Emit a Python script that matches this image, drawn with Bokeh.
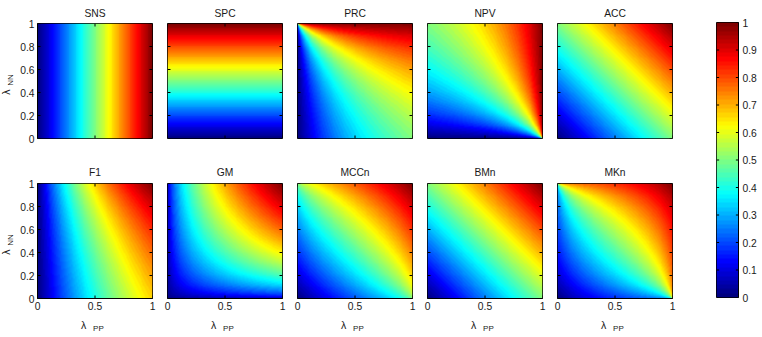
import numpy as np
from bokeh.plotting import figure
from bokeh.layouts import row, column
from bokeh.models import Range1d, FixedTicker, LinearColorMapper
from bokeh.core.properties import value
from bokeh.embed import file_html
from bokeh.resources import INLINE

# ---------------- data ----------------
metric_names = ["SNS", "SPC", "PRC", "NPV", "ACC",
                "F1", "GM", "MCCn", "BMn", "MKn"]
x_ticks = [0, 0.5, 1]
x_tick_labels = ["0", "0.5", "1"]
y_ticks = [0, 0.2, 0.4, 0.6, 0.8, 1]
y_tick_labels = ["0", "0.2", "0.4", "0.6", "0.8", "1"]
cbar_ticks = [0, 0.1, 0.2, 0.3, 0.4, 0.5, 0.6, 0.7, 0.8, 0.9, 1]
cbar_tick_labels = ["0", "0.1", "0.2", "0.3", "0.4", "0.5", "0.6", "0.7", "0.8", "0.9", "1"]
x_label_main, x_label_sub = "λ", "PP"
y_label_main, y_label_sub = "λ", "NN"
n_positive = 1.0   # balanced classes
n_negative = 1.0
grid_n = 240

# lambda_PP (x) and lambda_NN (y) sampled at cell centres
lam = (np.arange(grid_n) + 0.5) / grid_n
LPP, LNN = np.meshgrid(lam, lam)

TP = n_positive * LPP
FN = n_positive * (1 - LPP)
TN = n_negative * LNN
FP = n_negative * (1 - LNN)

SNS = TP / (TP + FN)
SPC = TN / (TN + FP)
PRC = TP / (TP + FP)
NPV = TN / (TN + FN)
ACC = (TP + TN) / (n_positive + n_negative)
F1 = 2 * TP / (2 * TP + FP + FN)
GM = np.sqrt(SNS * SPC)
MCC = (TP * TN - FP * FN) / np.sqrt((TP + FP) * (TP + FN) * (TN + FP) * (TN + FN))
MCCn = (MCC + 1) / 2
BMn = (SNS + SPC) / 2
MKn = (PRC + NPV) / 2
metric_values = [SNS, SPC, PRC, NPV, ACC, F1, GM, MCCn, BMn, MKn]

# MATLAB-like jet palette
def jet(v):
    r = np.clip(1.5 - np.abs(4 * v - 3), 0, 1)
    g = np.clip(1.5 - np.abs(4 * v - 2), 0, 1)
    b = np.clip(1.5 - np.abs(4 * v - 1), 0, 1)
    return "#%02x%02x%02x" % (int(round(r * 255)), int(round(g * 255)), int(round(b * 255)))

palette = [jet(v) for v in np.linspace(0, 1, 64)]
mapper = LinearColorMapper(palette=palette, low=0, high=1)

FONT = "Liberation Sans"
TXT = "#1a1a1a"
FS = "10.3px"
TICK = 0.026  # inward tick length in data units (~3 px)

# layout (pixels)
W, H = 762, 337
YLAB_W = 15
FRAME = 115
COL_STEP = 130
ROW1_H = 145
XLAB_H = 24
TOP, BOTTOM = 22, 40


def style_axis(ax, ticks, labels):
    ax.ticker = FixedTicker(ticks=ticks)
    ax.major_label_overrides = {t: l for t, l in zip(ticks, labels)}
    ax.major_tick_in = 0
    ax.major_tick_out = 0
    ax.minor_tick_line_color = None
    ax.axis_line_color = "black"
    ax.major_label_text_font = FONT
    ax.major_label_text_color = TXT
    ax.major_label_text_font_size = FS
    ax.major_label_standoff = 3


def box_ticks(p, xt, yt, lx, ly):
    xt = np.asarray(xt, dtype=float)
    yt = np.asarray(yt, dtype=float)
    p.segment(x0=xt, y0=np.zeros_like(xt), x1=xt, y1=np.zeros_like(xt) + ly,
              line_color="black", line_width=1)
    p.segment(x0=xt, y0=np.ones_like(xt), x1=xt, y1=np.ones_like(xt) - ly,
              line_color="black", line_width=1)
    p.segment(x0=np.zeros_like(yt), y0=yt, x1=np.zeros_like(yt) + lx, y1=yt,
              line_color="black", line_width=1)
    p.segment(x0=np.ones_like(yt), y0=yt, x1=np.ones_like(yt) - lx, y1=yt,
              line_color="black", line_width=1)


def make_panel(idx):
    r, c = divmod(idx, 5)
    p = figure(frame_width=FRAME, frame_height=FRAME,
               min_border_left=22 if c == 0 else 8, min_border_right=7,
               min_border_top=22 if r == 0 else 37,
               min_border_bottom=8 if r == 0 else 16,
               x_range=Range1d(0, 1), y_range=Range1d(0, 1),
               output_backend="svg", toolbar_location=None,
               title=metric_names[idx])
    p.image(image=[metric_values[idx]], x=0, y=0, dw=1, dh=1, color_mapper=mapper)
    box_ticks(p, x_ticks, y_ticks, TICK, TICK)
    p.grid.visible = False
    p.outline_line_color = "black"
    p.outline_line_alpha = 1
    p.background_fill_color = "white"
    p.border_fill_color = "white"
    p.title.align = "center"
    p.title.text_font = FONT
    p.title.text_font_size = FS
    p.title.text_font_style = "normal"
    p.title.text_color = TXT
    p.title.standoff = 10 if r == 0 else 12
    if r == 1:
        style_axis(p.xaxis[0], x_ticks, x_tick_labels)
    else:
        p.xaxis.visible = False
    if c == 0:
        style_axis(p.yaxis[0], y_ticks, y_tick_labels)
    else:
        p.yaxis.visible = False
    return p


def strip(width, height, x0, x1, y_top, y_bottom, **borders):
    s = figure(frame_width=width, frame_height=height,
               x_range=Range1d(x0, x1), y_range=Range1d(y_bottom, y_top),
               output_backend="svg", toolbar_location=None,
               min_border=0, **borders)
    s.axis.visible = False
    s.grid.visible = False
    s.outline_line_color = None
    s.border_fill_color = "white"
    s.background_fill_color = "white"
    return s


panels = [make_panel(i) for i in range(10)]

# y-axis label strip (coordinates: pixels from the top-left of the page);
# same top/bottom borders as the colour bar so that their frames align
ylab = strip(YLAB_W, H - TOP - BOTTOM, 0, YLAB_W, TOP, H - BOTTOM,
             min_border_left=0, min_border_right=0,
             min_border_top=TOP, min_border_bottom=BOTTOM)
frame_top = [22.0, ROW1_H + 37.0]
for ft in frame_top:
    yc = ft + FRAME / 2
    ylab.text(x=[5], y=[yc + 12], text=[y_label_main], angle=np.pi / 2,
              text_align="center", text_baseline="middle",
              text_font=value(FONT), text_font_size="10.5px", text_color=TXT)
    ylab.text(x=[9.5], y=[yc], text=[y_label_sub], angle=np.pi / 2,
              text_align="center", text_baseline="middle",
              text_font=value(FONT), text_font_size="8px", text_color=TXT)

# x-axis label strip
panels_w = 5 * COL_STEP + 14
xlab_top = H - XLAB_H
xlab = strip(panels_w, XLAB_H, YLAB_W, YLAB_W + panels_w, xlab_top, H,
             min_border_left=0, min_border_right=0,
             min_border_top=0, min_border_bottom=0)
frame_left = [37.0 + COL_STEP * k for k in range(5)]
xlab.text(x=[fl + 0.40 * FRAME for fl in frame_left], y=[323] * 5,
          text=[x_label_main] * 5, text_align="center", text_baseline="middle",
          text_font=value(FONT), text_font_size="10.5px", text_color=TXT)
xlab.text(x=[fl + 0.53 * FRAME for fl in frame_left], y=[327] * 5,
          text=[x_label_sub] * 5, text_align="center", text_baseline="middle",
          text_font=value(FONT), text_font_size="8px", text_color=TXT)

# colour bar
cb = figure(frame_width=22, frame_height=H - TOP - BOTTOM,
            min_border_left=37, min_border_right=24,
            min_border_top=TOP, min_border_bottom=BOTTOM,
            x_range=Range1d(0, 1), y_range=Range1d(0, 1),
            output_backend="svg", toolbar_location=None,
            y_axis_location="right")
cb.image(image=[np.linspace(0, 1, 256)[:, None]], x=0, y=0, dw=1, dh=1,
         color_mapper=mapper)
ct = np.asarray(cbar_ticks, dtype=float)
cb.segment(x0=np.zeros_like(ct), y0=ct, x1=np.zeros_like(ct) + 0.12, y1=ct,
           line_color="black", line_width=1)
cb.segment(x0=np.ones_like(ct), y0=ct, x1=np.ones_like(ct) - 0.12, y1=ct,
           line_color="black", line_width=1)
cb.grid.visible = False
cb.xaxis.visible = False
cb.outline_line_color = "black"
cb.border_fill_color = "white"
style_axis(cb.yaxis[0], cbar_ticks, cbar_tick_labels)
cb.yaxis.major_label_standoff = 4

grid = column(row(*panels[:5], spacing=0), row(*panels[5:], spacing=0), xlab, spacing=0)
layout = row(ylab, grid, cb, spacing=0)

open("out.html", "w").write(file_html(layout, INLINE))
